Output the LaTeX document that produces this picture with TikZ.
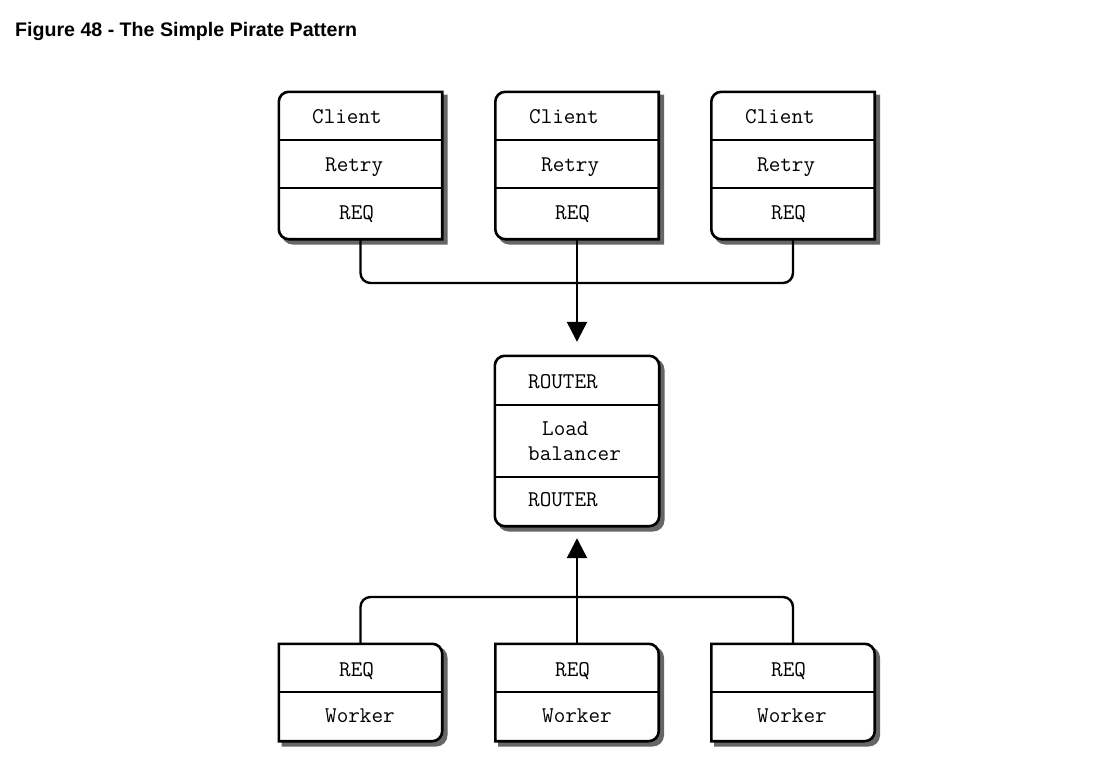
\documentclass[tikz,border=0pt]{standalone}
\usepackage{fontspec}
\newfontfamily\titlefont{Liberation Sans}
\usetikzlibrary{arrows.meta}
\tikzset{
  box/.style={draw=none,inner sep=0pt,minimum width=163bp},
  boxline/.style={draw=black,fill=white,line width=2.6bp},
  boxshadow/.style={draw=black!60,fill=black!60,line width=2.6bp,transform canvas={shift={(4bp,-4bp)}}},
  boxtext/.style={anchor=base west,inner sep=0pt,font=\fontsize{22.5bp}{26bp}\selectfont\ttfamily},
  wire/.style={black,line width=2.4bp,rounded corners=10bp},
  wiretip/.style={-{Triangle[length=20bp,width=20bp]}},
}
\begin{document}
\begin{tikzpicture}[line join=miter]
\useasboundingbox (0bp,0bp) rectangle (1120bp,-767bp);
%%
\node (title) at (15bp,-36bp) [anchor=base west,inner sep=0pt,font=\titlefont\bfseries\fontsize{19.6bp}{24bp}\selectfont] {Figure 48 - The Simple Pirate Pattern};
%%
\node (client_1) at (360.5bp,-165.5bp) [box,minimum height=147bp] {};
  \node (client_2) at (577bp,-165.5bp) [box,minimum height=147bp] {};
  \node (client_3) at (793bp,-165.5bp) [box,minimum height=147bp] {};
  \node (router) at (577bp,-441bp) [box,minimum width=164bp,minimum height=170bp] {};
  \node (worker_1) at (360.5bp,-692.5bp) [box,minimum height=97bp] {};
  \node (worker_2) at (577bp,-692.5bp) [box,minimum height=97bp] {};
  \node (worker_3) at (793bp,-692.5bp) [box,minimum height=97bp] {};
  \coordinate (row_client_a) at (0bp,-140bp);
  \coordinate (row_client_b) at (0bp,-188bp);
  \coordinate (row_router_a) at (0bp,-405bp);
  \coordinate (row_router_b) at (0bp,-477bp);
  \coordinate (row_worker) at (0bp,-692bp);
  \coordinate (join_top) at (577bp,-283bp);
  \coordinate (join_bottom) at (577bp,-597bp);
%% boxes
\foreach \b in {client_1,client_2,client_3} {
  \path [boxshadow] (\b.north) -- (\b.north east) -- (\b.south east) [rounded corners=10bp] -- (\b.south west) -- (\b.north west) [sharp corners] -- cycle;
  \path [boxline] (\b.north) -- (\b.north east) -- (\b.south east) [rounded corners=10bp] -- (\b.south west) -- (\b.north west) [sharp corners] -- cycle;
  \draw [boxline] (\b.west |- row_client_a) -- (\b.east |- row_client_a);
  \draw [boxline] (\b.west |- row_client_b) -- (\b.east |- row_client_b);
}
\path [boxshadow,rounded corners=10bp] (router.north west) rectangle (router.south east);
  \path [boxline,rounded corners=10bp] (router.north west) rectangle (router.south east);
  \draw [boxline] (router.west |- row_router_a) -- (router.east |- row_router_a);
  \draw [boxline] (router.west |- row_router_b) -- (router.east |- row_router_b);
\foreach \b in {worker_1,worker_2,worker_3} {
  \path [boxshadow] (\b.south) -- (\b.south west) -- (\b.north west) [rounded corners=10bp] -- (\b.north east) -- (\b.south east) [sharp corners] -- cycle;
  \path [boxline] (\b.south) -- (\b.south west) -- (\b.north west) [rounded corners=10bp] -- (\b.north east) -- (\b.south east) [sharp corners] -- cycle;
  \draw [boxline] (\b.west |- row_worker) -- (\b.east |- row_worker);
}
%% texts
\node (client_1_name) at (312bp,-123.5bp) [boxtext] {Client};
  \node (client_1_retry) at (325bp,-171.5bp) [boxtext] {Retry};
  \node (client_1_req) at (339bp,-219.5bp) [boxtext] {REQ};
  \node (client_2_name) at (529bp,-123.5bp) [boxtext] {Client};
  \node (client_2_retry) at (541bp,-171.5bp) [boxtext] {Retry};
  \node (client_2_req) at (555bp,-219.5bp) [boxtext] {REQ};
  \node (client_3_name) at (745bp,-123.5bp) [boxtext] {Client};
  \node (client_3_retry) at (757bp,-171.5bp) [boxtext] {Retry};
  \node (client_3_req) at (771bp,-219.5bp) [boxtext] {REQ};
  \node (router_front) at (528bp,-388.3bp) [boxtext] {ROUTER};
  \node (router_load) at (542bp,-435.7bp) [boxtext] {Load};
  \node (router_balancer) at (528bp,-460bp) [boxtext] {balancer};
  \node (router_back) at (528bp,-506.7bp) [boxtext] {ROUTER};
  \node (worker_1_req) at (339bp,-676bp) [boxtext] {REQ};
  \node (worker_1_name) at (325bp,-722.7bp) [boxtext] {Worker};
  \node (worker_2_req) at (555bp,-676bp) [boxtext] {REQ};
  \node (worker_2_name) at (542bp,-722.7bp) [boxtext] {Worker};
  \node (worker_3_req) at (771bp,-676bp) [boxtext] {REQ};
  \node (worker_3_name) at (757bp,-722.7bp) [boxtext] {Worker};
%% connectors
\draw [wire] (client_1.south) |- (join_top) -| (client_3.south);
  \draw [wire,wiretip,shorten >=14bp] (client_2.south) -- (router.north);
  \draw [wire] (worker_1.north) |- (join_bottom) -| (worker_3.north);
  \draw [wire,wiretip,shorten >=12bp] (worker_2.north) -- (router.south);
%
\end{tikzpicture}
\end{document}
